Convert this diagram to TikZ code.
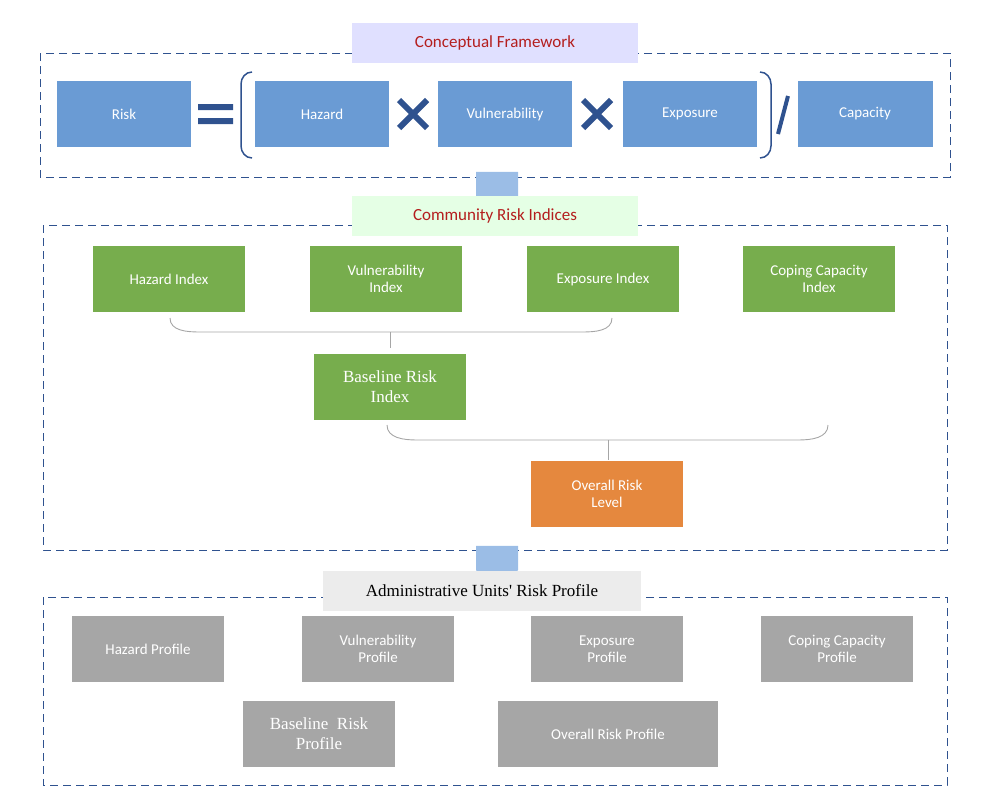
\documentclass[tikz,border=0pt]{standalone}
\usepackage{fontspec}
\setmainfont{Carlito}
\newfontfamily\serifed{Liberation Serif}
\usetikzlibrary{shapes.arrows}
\definecolor{frameblue}{RGB}{47, 82, 143}
\definecolor{boxblue}{RGB}{106, 155, 212}
\definecolor{boxgreen}{RGB}{119, 173, 77}
\definecolor{boxorange}{RGB}{229, 136, 62}
\definecolor{boxgray}{RGB}{166, 166, 166}
\definecolor{titlered}{RGB}{180, 30, 30}
\definecolor{arrowblue}{RGB}{155, 189, 230}
\tikzset{%
    frame/.style={draw=frameblue, dashed, line width=1pt, dash pattern=on 8pt off 5pt},
    block/.style={text=white, font=\fontsize{15}{17}\selectfont, align=center,
        minimum width=152pt, minimum height=66pt, inner sep=2pt},
    title/.style={font=\fontsize{17}{19}\selectfont, minimum width=286pt,
        minimum height=40pt, inner sep=2pt},
    brace/.style={draw=gray!70, line width=0.9pt},
    cross/.style={frameblue, line width=6pt},
    downarrow/.style={single arrow, fill=arrowblue, rotate=-90,
        minimum width=42pt, single arrow head extend=0pt, minimum height=42pt,
        single arrow tip angle=100, inner sep=6pt}
}

\begin{document}
\begin{tikzpicture}[x=1pt, y=-1pt]
    \useasboundingbox (0, 0) rectangle (991, 809);

    % Conceptual framework
    \draw[frame] (40, 53) rectangle (950, 177);
    \node[title, fill=blue!12!white, text=titlered] (cftitle) at (495, 43) {Conceptual Framework};
    \node[block, fill=boxblue, minimum width=134pt] (risk) at (124, 114) {Risk};
    \node[block, fill=boxblue, minimum width=134pt] (hazard) at (322, 114) {Hazard};
    \node[block, fill=boxblue, minimum width=134pt] (vuln) at (505, 114) {Vulnerability};
    \node[block, fill=boxblue, minimum width=134pt] (expo) at (690, 114) {Exposure};
    \node[block, fill=boxblue, minimum width=135pt] (capa) at (865, 114) {Capacity};
    \fill[frameblue] (198, 104) rectangle (233, 110) (198, 118) rectangle (233, 124);
    \foreach \cx in {413, 597}{%
        \draw[cross] (\cx-14, 100) -- (\cx+14, 128) (\cx-14, 128) -- (\cx+14, 100);
    }
    \draw[frameblue, line width=4pt] (788, 96) -- (778, 134);
    \draw[frameblue, line width=1.5pt] (252, 72) to[out=180, in=90] (241, 84) -- (241, 146)
        to[out=-90, in=180] (252, 158);
    \draw[frameblue, line width=1.5pt] (760, 72) to[out=0, in=90] (771, 84) -- (771, 146)
        to[out=-90, in=0] (760, 158);
    \node[downarrow] (arrow1) at (497, 184) {};

    % Community risk indices
    \draw[frame] (43, 225) rectangle (947, 550);
    \node[title, fill=green!10!white, text=titlered] (crititle) at (495, 216) {Community Risk Indices};
    \node[block, fill=boxgreen] (hazidx) at (169, 279) {Hazard Index};
    \node[block, fill=boxgreen] (vulidx) at (386, 279) {Vulnerability\\Index};
    \node[block, fill=boxgreen] (expidx) at (603, 279) {Exposure Index};
    \node[block, fill=boxgreen] (copidx) at (819, 279) {Coping Capacity\\Index};
    \draw[brace] (170, 318) to[out=-90, in=180] (200, 332) -- (582, 332)
        to[out=0, in=-90] (612, 318);
    \draw[brace] (390, 332) -- (390, 348);
    \node[block, fill=boxgreen, font=\serifed\fontsize{17}{20}\selectfont] (baseidx) at (390, 387) {Baseline Risk\\Index};
    \draw[brace] (387, 425) to[out=-90, in=180] (417, 440) -- (798, 440)
        to[out=0, in=-90] (828, 425);
    \draw[brace] (608, 440) -- (608, 460);
    \node[block, fill=boxorange] (overall) at (607, 494) {Overall Risk\\Level};
    \node[downarrow] (arrow2) at (497, 558) {};

    % Administrative units
    \draw[frame] (43, 597) rectangle (947, 785);
    \node[title, fill=gray!15, minimum width=318pt, font=\serifed\fontsize{17}{19}\selectfont] (autitle) at (482, 591) {Administrative Units' Risk Profile};
    \node[block, fill=boxgray] (hazprof) at (148, 649) {Hazard Profile};
    \node[block, fill=boxgray] (vulprof) at (378, 649) {Vulnerability\\Profile};
    \node[block, fill=boxgray] (expprof) at (607, 649) {Exposure\\Profile};
    \node[block, fill=boxgray] (copprof) at (837, 649) {Coping Capacity\\Profile};
    \node[block, fill=boxgray, font=\serifed\fontsize{17}{20}\selectfont] (baseprof) at (319, 734) {Baseline\ \ Risk\\Profile};
    \node[block, fill=boxgray, minimum width=220pt] (overprof) at (608, 734) {Overall Risk Profile};
\end{tikzpicture}
\end{document}
